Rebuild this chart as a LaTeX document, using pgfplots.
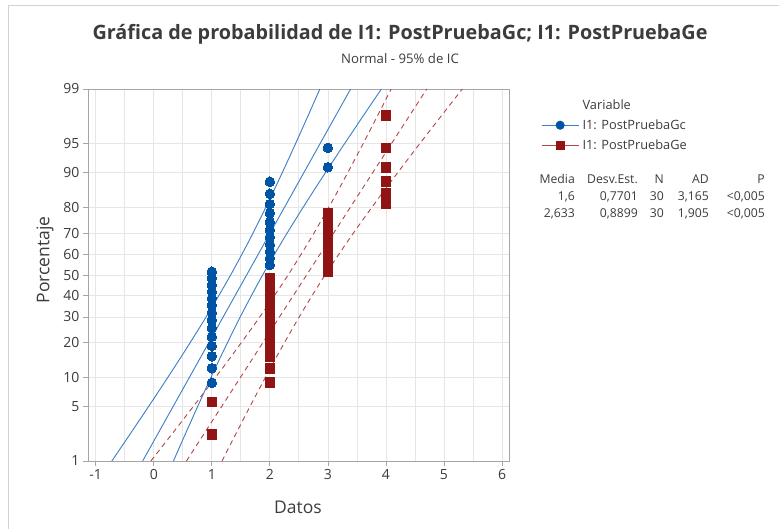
\documentclass[border=0pt]{standalone}
\usepackage{fontspec}
\setmainfont{Open Sans}
\usepackage{pgfplots}
\pgfplotsset{compat=1.18}

\definecolor{mblue}{RGB}{0,84,166}
\definecolor{mblueline}{RGB}{60,125,200}
\definecolor{mred}{RGB}{145,20,20}
\definecolor{mredline}{RGB}{180,70,70}
\definecolor{txt}{RGB}{60,60,60}
\definecolor{gridc}{RGB}{230,230,230}
\definecolor{axc}{RGB}{165,165,165}

\begin{document}
\begin{tikzpicture}[x=1pt,y=1pt]
\useasboundingbox (0,0) rectangle (779,528);
\fill[white] (0,0) rectangle (779,528);
\draw[gray!35, line width=0.8pt] (8,-2) -- (8,523) -- (781,523);

\begin{axis}[
    at={(88pt,67pt)}, anchor=south west,
    scale only axis, width=421pt, height=372pt,
    xmin=-1.133, xmax=6.12,
    ymin=-2.3263, ymax=2.3263,
    xtick={-1,0,1,2,3,4,5,6}, minor x tick num=1,
    ytick={-2.3263,-1.6449,-1.2816,-0.8416,-0.5244,-0.2533,0,0.2533,0.5244,0.8416,1.2816,1.6449,2.3263},
    yticklabels={1,5,10,20,30,40,50,60,70,80,90,95,99},
    grid=both,
    major grid style={gridc, line width=0.8pt},
    minor grid style={gridc, line width=0.8pt},
    tick align=outside, major tick length=5pt, minor tick length=0pt,
    xtick pos=bottom, ytick pos=left,
    tick style={axc, line width=0.8pt},
    axis line style={axc, line width=0.9pt},
    /pgf/number format/assume math mode=true,
    tick label style={font=\fontsize{14}{16}\selectfont, text=txt},
    legend style={draw=none, fill=none, at={(1.076,0.978)}, anchor=north west,
        font=\fontsize{12.8}{15}\selectfont, text=txt, row sep=5pt,
        inner sep=0pt, column sep=1.5pt},
    legend cell align=left,
]
% --- I1: PostPruebaGc : ajuste e IC 95%
\addplot[mblueline, line width=0.9pt, forget plot] coordinates {(-0.19148,-2.3263)(3.39148,2.3263)};
\addplot[mblueline, line width=0.9pt, smooth, forget plot] coordinates {
    (-0.72198,-2.3263)(-0.41751,-2)(0.04313,-1.5)(0.49239,-1)(0.92266,-0.5)(1.32442,0)
    (1.69276,0.5)(2.03259,1)(2.35343,1.5)(2.66289,2)(2.86098,2.3263)};
\addplot[mblueline, line width=0.9pt, smooth, forget plot] coordinates {
    (0.33902,-2.3263)(0.53711,-2)(0.84657,-1.5)(1.16741,-1)(1.50724,-0.5)(1.87558,0)
    (2.27734,0.5)(2.70761,1)(3.15687,1.5)(3.61751,2)(3.92198,2.3263)};
% --- I1: PostPruebaGe : ajuste e IC 95%
\addplot[mredline, line width=0.9pt, dash pattern=on 5pt off 4pt, forget plot] coordinates {(0.56283,-2.3263)(4.70317,2.3263)};
\addplot[mredline, line width=0.9pt, dash pattern=on 5pt off 4pt, smooth, forget plot] coordinates {
    (-0.05020,-2.3263)(0.30163,-2)(0.83394,-1.5)(1.35308,-1)(1.85029,-0.5)(2.31455,0)
    (2.74019,0.5)(3.13288,1)(3.50364,1.5)(3.86123,2)(4.09014,2.3263)};
\addplot[mredline, line width=0.9pt, dash pattern=on 5pt off 4pt, smooth, forget plot] coordinates {
    (1.17586,-2.3263)(1.40477,-2)(1.76236,-1.5)(2.13312,-1)(2.52581,-0.5)(2.95145,0)
    (3.41571,0.5)(3.91292,1)(4.43206,1.5)(4.96437,2)(5.31620,2.3263)};

\addlegendimage{empty legend}
\addlegendentry{Variable}

% --- puntos (posiciones de Benard, z normal)
\addplot[color=mblue, only marks, mark=*, mark size=4.8pt, mark options={fill=mblue, draw=mblue, line width=0pt},
    legend image code/.code={\draw[mblueline, line width=0.9pt] (0pt,0pt) -- (37pt,0pt);
        \fill[mblue] (18.5pt,0pt) circle (4.3pt);}]
coordinates {
    (1,-1.9949)(1,-1.5900)(1,-1.3481)(1,-1.1665)(1,-1.0169)(1,-0.8871)(1,-0.7709)(1,-0.6642)
    (1,-0.5646)(1,-0.4703)(1,-0.3800)(1,-0.2927)(1,-0.2076)(1,-0.1240)(1,-0.0413)(1,0.0413)
    (2,0.1240)(2,0.2076)(2,0.2927)(2,0.3800)(2,0.4703)(2,0.5646)(2,0.6642)(2,0.7709)
    (2,0.8871)(2,1.0169)(2,1.1665)
    (3,1.3481)(3,1.5900)
    (4,1.9949)};
\addlegendentry{I1: PostPruebaGc}

\addplot[color=mred, only marks, mark=square*, mark size=4.8pt, mark options={fill=mred, draw=mred, line width=0pt},
    legend image code/.code={\draw[mredline, line width=0.9pt] (0pt,0pt) -- (37pt,0pt);
        \fill[mred] (14.3pt,-4.2pt) rectangle (22.7pt,4.2pt);}]
coordinates {
    (1,-1.9949)(1,-1.5900)
    (2,-1.3481)(2,-1.1665)(2,-1.0169)(2,-0.8871)(2,-0.7709)(2,-0.6642)(2,-0.5646)
    (2,-0.4703)(2,-0.3800)(2,-0.2927)(2,-0.2076)(2,-0.1240)(2,-0.0413)
    (3,0.0413)(3,0.1240)(3,0.2076)(3,0.2927)(3,0.3800)(3,0.4703)(3,0.5646)(3,0.6642)(3,0.7709)
    (4,0.8871)(4,1.0169)(4,1.1665)(4,1.3481)(4,1.5900)(4,1.9949)};
\addlegendentry{I1: PostPruebaGe}
\end{axis}

% títulos
\node[text=txt, font=\fontsize{19.8}{23}\bfseries\selectfont] at (400,494) {Gráfica de probabilidad de I1: PostPruebaGc; I1: PostPruebaGe};
\node[text=txt, font=\fontsize{13.2}{16}\selectfont] at (400,469) {Normal - 95\% de IC};
\node[text=txt, font=\fontsize{17.5}{20}\selectfont] at (298,21) {Datos};
\node[text=txt, font=\fontsize{17.5}{20}\selectfont, rotate=90] at (45,268) {Porcentaje};

% tabla de estadísticos
\begin{scope}[every node/.style={text=txt, font=\fontsize{12.2}{14}\selectfont, anchor=base east, inner sep=0pt}]
\node at (575,344) {Media};
\node at (638,344) {Desv.Est.};
\node at (664,344) {N};
\node at (709,344) {AD};
\node at (765,344) {P};
\node at (575,327) {1,6};
\node at (638,327) {0,7701};
\node at (664,327) {30};
\node at (709,327) {3,165};
\node at (765,327) {<0,005};
\node at (575,310) {2,633};
\node at (638,310) {0,8899};
\node at (664,310) {30};
\node at (709,310) {1,905};
\node at (765,310) {<0,005};
\end{scope}
\end{tikzpicture}
\end{document}
